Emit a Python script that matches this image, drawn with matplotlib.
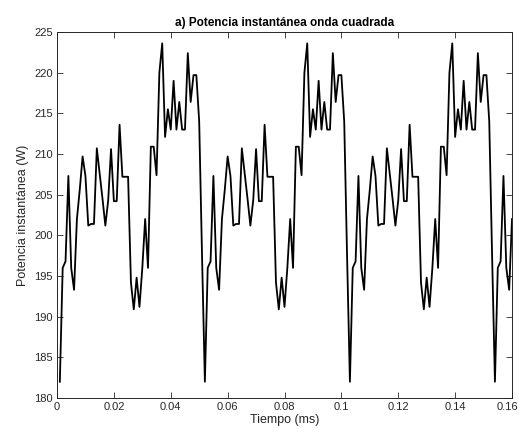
import matplotlib
matplotlib.use('Agg')
import matplotlib.pyplot as plt
import matplotlib.ticker as mticker
import matplotlib.transforms as mtrans

plt.rcParams['font.family'] = ['Liberation Sans', 'DejaVu Sans']

# Tiempo (ms), muestras cada 0.001 ms
tiempo = [round(0.001 * k, 3) for k in range(1, 161)]

# Potencia instantanea (W)
potencia = [
    # periodo 1
    182.0, 196.0, 196.8, 207.3, 196.0, 193.3, 202.0, 205.6, 209.7, 207.3,
    201.2, 201.4, 201.4, 210.7, 207.6, 204.5, 201.2, 204.3, 210.6, 204.2,
    204.2, 213.6, 207.2, 207.2, 207.2, 194.2, 190.9, 194.8, 191.2, 196.0,
    202.0, 196.0, 210.9, 210.9, 207.4, 220.0, 223.6, 212.1, 215.5, 213.0,
    219.0, 213.0, 216.4, 213.0, 213.0, 222.4, 216.4, 219.7, 219.7, 214.0,
    197.5,
    # periodo 2
    182.0, 196.0, 196.8, 207.3, 196.0, 193.3, 202.0, 205.6, 209.7, 207.3,
    201.2, 201.4, 201.4, 210.7, 207.6, 204.5, 201.2, 204.3, 210.6, 204.2,
    204.2, 213.6, 207.2, 207.2, 207.2, 194.2, 190.9, 194.8, 191.2, 196.0,
    202.0, 196.0, 210.9, 210.9, 207.4, 220.0, 223.6, 212.1, 215.5, 213.0,
    219.0, 213.0, 216.4, 213.0, 213.0, 222.4, 216.4, 219.7, 219.7, 214.0,
    197.5,
    # periodo 3
    182.0, 196.0, 196.8, 207.3, 196.0, 193.3, 202.0, 205.6, 209.7, 207.3,
    201.2, 201.4, 201.4, 210.7, 207.6, 204.5, 201.2, 204.3, 210.6, 204.2,
    204.2, 213.6, 207.2, 207.2, 207.2, 194.2, 190.9, 194.8, 191.2, 196.0,
    202.0, 196.0, 210.9, 210.9, 207.4, 220.0, 223.6, 212.1, 215.5, 213.0,
    219.0, 213.0, 216.4, 213.0, 213.0, 222.4, 216.4, 219.7, 219.7, 214.0,
    197.5,
    # inicio periodo 4
    182.0, 196.0, 196.8, 207.3, 196.0, 193.3, 202.0,
]

xticks = [0, 0.02, 0.04, 0.06, 0.08, 0.1, 0.12, 0.14, 0.16]
xticklabels = ['0', '0.02', '0.04', '0.06', '0.08', '0.1', '0.12', '0.14', '0.16']
yticks = [180, 185, 190, 195, 200, 205, 210, 215, 220, 225]

fig = plt.figure(figsize=(5.19, 4.28), dpi=100)
ax = fig.add_axes([57 / 519, 1 - 398 / 428, (512 - 57) / 519, (398 - 32) / 428])

ax.plot(tiempo, potencia, color='black', linewidth=1.3)

ax.set_xlim(0, 0.16)
ax.set_ylim(180, 225)
ax.set_xticks(xticks)
ax.set_xticklabels(xticklabels)
ax.set_yticks(yticks)
ax.yaxis.set_major_formatter(mticker.FormatStrFormatter('%d'))

grey = '#262626'
for s in ax.spines.values():
    s.set_color(grey)
    s.set_linewidth(0.7)
ax.tick_params(direction='in', top=True, right=True, length=4, width=0.6,
               colors=grey, labelsize=8, pad=3)

# la ultima etiqueta se corre un poco a la izquierda para que quepa
last = ax.get_xticklabels()[-1]
last.set_transform(last.get_transform() +
                   mtrans.ScaledTranslation(-5 / 100, 0, fig.dpi_scale_trans))

ax.set_title('a) Potencia instantánea onda cuadrada', fontsize=8.5,
             fontweight='bold', pad=4)
ax.set_xlabel('Tiempo (ms)', fontsize=9, labelpad=1.5, color=grey)
ax.set_ylabel('Potencia instantánea (W)', fontsize=9, labelpad=4, color=grey)

plt.savefig('out.png', dpi=100)
